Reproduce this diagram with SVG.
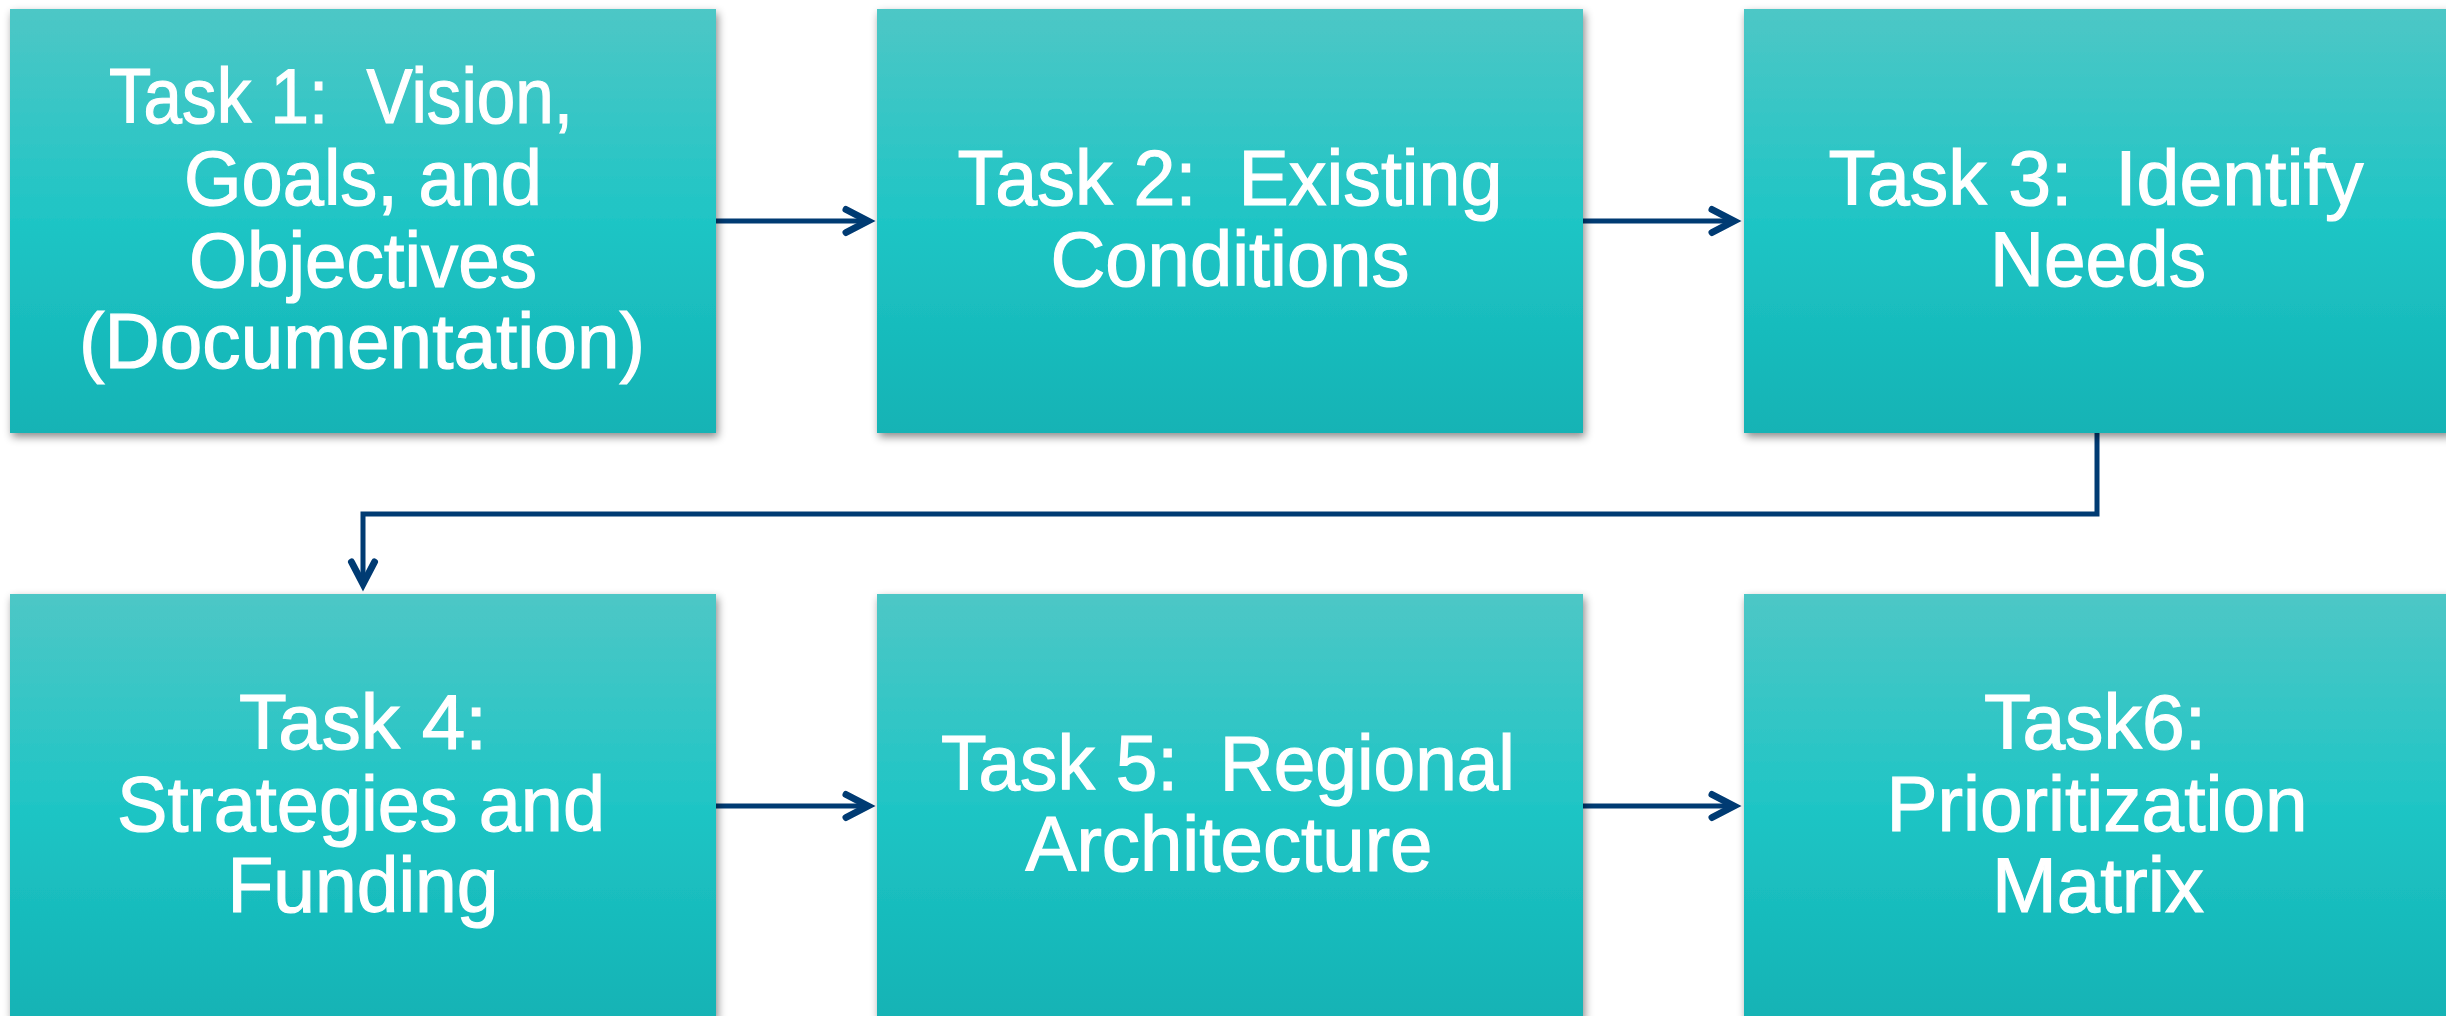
<svg xmlns="http://www.w3.org/2000/svg" width="2446" height="1016" viewBox="0 0 2446 1016">
  <style>
    .box { fill: url(#teal); filter: url(#shadow); }
    .label { font-family: "Liberation Sans", Arial, sans-serif; font-size: 78px; fill: #ffffff; stroke: #ffffff; stroke-width: 1.2; text-anchor: middle; }
    .conn { fill: none; stroke: #003b73; stroke-width: 5; stroke-linejoin: miter; }
  </style>
  <defs>
    <linearGradient id="teal" x1="0" y1="0" x2="0" y2="1">
      <stop offset="0" stop-color="#4dc7c6"/>
      <stop offset="0.5" stop-color="#1fc5c5"/>
      <stop offset="1" stop-color="#12b3b5"/>
    </linearGradient>
    <filter id="shadow" x="-5%" y="-5%" width="115%" height="115%">
      <feDropShadow dx="2" dy="4" stdDeviation="4" flood-color="#000000" flood-opacity="0.45"/>
    </filter>
    <marker id="chevron" markerUnits="userSpaceOnUse" markerWidth="40" markerHeight="40" viewBox="-30 -20 40 40" refX="0" refY="0" orient="auto" overflow="visible">
      <path d="M -22 -11.5 L 0 0 L -22 11.5" fill="none" stroke="#003b73" stroke-width="7" stroke-linecap="round" stroke-linejoin="miter"/>
    </marker>
  </defs>

  <!-- connectors -->
  <g id="connectors">
    <path class="conn" d="M 716 221 L 868 221" marker-end="url(#chevron)"/>
    <path class="conn" d="M 1583 221 L 1734 221" marker-end="url(#chevron)"/>
    <path class="conn" d="M 2097 433 L 2097 514 L 363 514 L 363 584" marker-end="url(#chevron)"/>
    <path class="conn" d="M 716 806 L 868 806" marker-end="url(#chevron)"/>
    <path class="conn" d="M 1583 806 L 1734 806" marker-end="url(#chevron)"/>
  </g>

  <!-- row 1 -->
  <g id="task1">
    <rect class="box" x="10" y="9" width="706" height="424"/>
    <text class="label" x="341" y="123" textLength="464" lengthAdjust="spacingAndGlyphs" xml:space="preserve">Task 1:  Vision,</text>
    <text class="label" x="363" y="205" textLength="358" lengthAdjust="spacingAndGlyphs">Goals, and</text>
    <text class="label" x="363" y="287" textLength="348" lengthAdjust="spacingAndGlyphs">Objectives</text>
    <text class="label" x="362" y="368" textLength="566" lengthAdjust="spacingAndGlyphs">(Documentation)</text>
  </g>
  <g id="task2">
    <rect class="box" x="877" y="9" width="706" height="424"/>
    <text class="label" x="1230" y="205" textLength="545" lengthAdjust="spacingAndGlyphs" xml:space="preserve">Task 2:  Existing</text>
    <text class="label" x="1230" y="286" textLength="359" lengthAdjust="spacingAndGlyphs">Conditions</text>
  </g>
  <g id="task3">
    <rect class="box" x="1744" y="9" width="706" height="424"/>
    <text class="label" x="2096" y="205" textLength="535" lengthAdjust="spacingAndGlyphs" xml:space="preserve">Task 3:  Identify</text>
    <text class="label" x="2098" y="286" textLength="216" lengthAdjust="spacingAndGlyphs">Needs</text>
  </g>

  <!-- row 2 -->
  <g id="task4">
    <rect class="box" x="10" y="594" width="706" height="424"/>
    <text class="label" x="363" y="749" textLength="248" lengthAdjust="spacingAndGlyphs">Task 4:</text>
    <text class="label" x="361" y="831" textLength="488" lengthAdjust="spacingAndGlyphs">Strategies and</text>
    <text class="label" x="363" y="912" textLength="271" lengthAdjust="spacingAndGlyphs">Funding</text>
  </g>
  <g id="task5">
    <rect class="box" x="877" y="594" width="706" height="424"/>
    <text class="label" x="1228" y="790" textLength="574" lengthAdjust="spacingAndGlyphs" xml:space="preserve">Task 5:  Regional</text>
    <text class="label" x="1229" y="871" textLength="407" lengthAdjust="spacingAndGlyphs">Architecture</text>
  </g>
  <g id="task6">
    <rect class="box" x="1744" y="594" width="706" height="424"/>
    <text class="label" x="2095" y="749" textLength="222" lengthAdjust="spacingAndGlyphs">Task6:</text>
    <text class="label" x="2097" y="831" textLength="421" lengthAdjust="spacingAndGlyphs">Prioritization</text>
    <text class="label" x="2098" y="912" textLength="212" lengthAdjust="spacingAndGlyphs">Matrix</text>
  </g>
</svg>
